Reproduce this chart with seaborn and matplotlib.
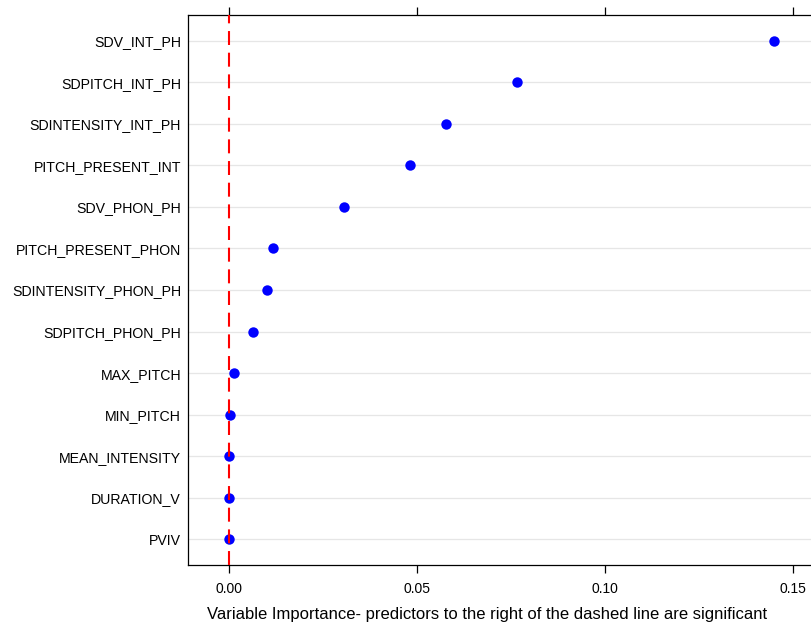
import matplotlib
matplotlib.use("Agg")
import matplotlib.pyplot as plt
import seaborn as sns
import pandas as pd

predictors = ["SDV_INT_PH", "SDPITCH_INT_PH", "SDINTENSITY_INT_PH", "PITCH_PRESENT_INT",
              "SDV_PHON_PH", "PITCH_PRESENT_PHON", "SDINTENSITY_PHON_PH", "SDPITCH_PHON_PH",
              "MAX_PITCH", "MIN_PITCH", "MEAN_INTENSITY", "DURATION_V", "PVIV"]
importance = [0.1449, 0.0766, 0.0577, 0.0481, 0.0306, 0.0117, 0.0101, 0.0064,
              0.0013, 0.0003, 0.0000, 0.0000, -0.0001]
xticks = [0.00, 0.05, 0.10, 0.15]
xticklabels = ["0.00", "0.05", "0.10", "0.15"]
xlabel = "Variable Importance- predictors to the right of the dashed line are significant"

df = pd.DataFrame({"predictor": predictors, "importance": importance})

sns.set_style("white")
plt.rcParams["font.family"] = ["Liberation Sans", "DejaVu Sans"]
plt.rcParams["text.color"] = "black"
plt.rcParams["xtick.color"] = "black"
plt.rcParams["ytick.color"] = "black"

W, H = 811, 626
fig = plt.figure(figsize=(W / 100, H / 100), dpi=100)
x0, x1 = -0.0109, 0.158
left_px, top_px, bottom_px = 188, 15, 565
width_px = (x1 - x0) * 3760
ax = fig.add_axes([left_px / W, 1 - bottom_px / H, width_px / W, (bottom_px - top_px) / H])

for i in range(len(predictors)):
    ax.axhline(i, color="#e6e6e6", lw=0.9, zorder=0)

sns.stripplot(data=df, x="importance", y="predictor", order=predictors, jitter=False,
              color="blue", size=7.5, linewidth=0, ax=ax, zorder=3)

ax.axvline(0, color="red", lw=1.5, dashes=(6.7, 3.7), zorder=4)

ax.set_xlim(x0, x1)
ax.set_ylim(len(predictors) - 1 + 0.625, -0.625)
ax.set_xticks(xticks)
ax.set_xticklabels(xticklabels, fontsize=10)
ax.tick_params(axis="x", which="both", direction="out", length=6, width=0.9, color="black",
               labelcolor="black", top=True, bottom=True, labeltop=False, labelbottom=True, pad=6)
ax.tick_params(axis="y", length=0, labelsize=10.2, labelcolor="black", pad=5)
ax.set_xlabel("")
ax.set_ylabel("")
for s in ax.spines.values():
    s.set_color("black")
    s.set_linewidth(0.9)
    s.set_visible(True)

fig.text(487 / W, 1 - 615 / H, xlabel, ha="center", va="center", fontsize=12)

fig.savefig("out.png", dpi=100)
